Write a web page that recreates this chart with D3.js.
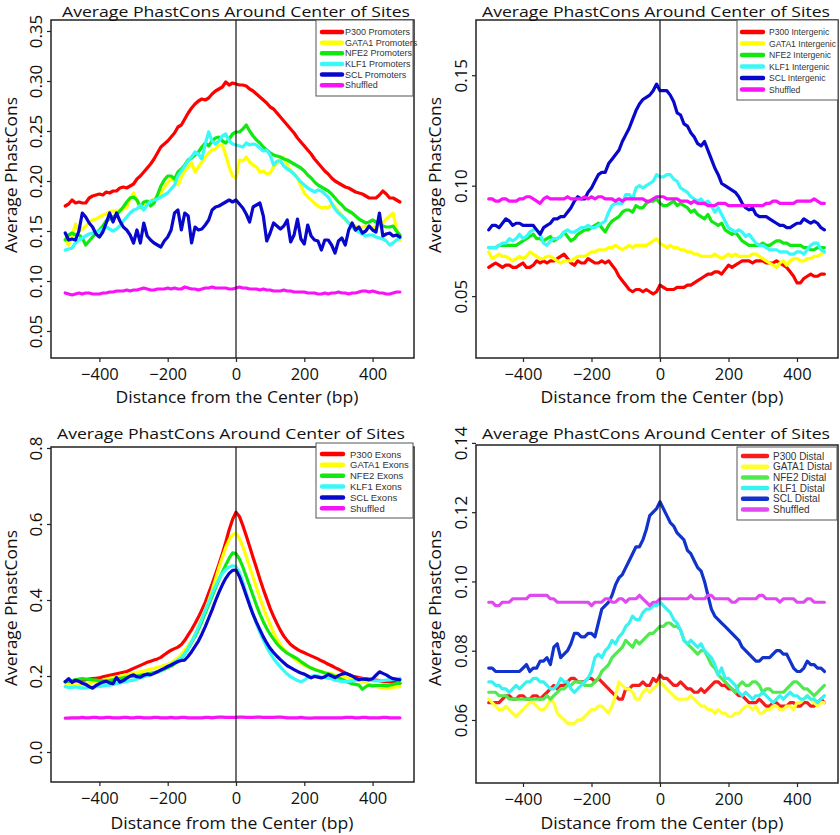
<!DOCTYPE html>
<html><head><meta charset="utf-8">
<script src="https://cdn.jsdelivr.net/npm/d3@7"></script>
<style>body{margin:0;background:#fff}svg{display:block}</style>
</head><body><svg id="c" width="840" height="835"></svg>
<script>
// ---- DATA ----
const xs = d3.range(-500, 481, 10); // distance from center (bp)
const xTicks = [-400, -200, 0, 200, 400];
const titleText = "Average PhastCons Around Center of Sites";
const xLabelText = "Distance from the Center (bp)";
const yLabelText = "Average PhastCons";

const promLabels = ["P300 Promoters","GATA1 Promoters","NFE2 Promoters","KLF1 Promoters","SCL Promoters","Shuffled"];
const interLabels = ["P300 Intergenic","GATA1 Intergenic","NFE2 Intergenic","KLF1 Intergenic","SCL Intergenic","Shuffled"];
const exonLabels = ["P300 Exons","GATA1 Exons","NFE2 Exons","KLF1 Exons","SCL Exons","Shuffled"];
const distLabels = ["P300 Distal","GATA1 Distal","NFE2 Distal","KLF1 Distal","SCL Distal","Shuffled"];

const promYTicks = [0.05,0.10,0.15,0.20,0.25,0.30,0.35];
const interYTicks = [0.05,0.10,0.15];
const exonYTicks = [0.0,0.2,0.4,0.6,0.8];
const distYTicks = [0.06,0.08,0.10,0.12,0.14];

const promP300 = [0.175,0.177,0.181,0.178,0.179,0.178,0.178,0.183,0.185,0.186,
0.187,0.186,0.189,0.188,0.190,0.190,0.193,0.194,0.193,0.195,
0.197,0.202,0.205,0.209,0.213,0.217,0.222,0.228,0.234,0.237,
0.240,0.244,0.248,0.254,0.256,0.262,0.268,0.273,0.277,0.280,
0.282,0.281,0.283,0.287,0.290,0.292,0.294,0.299,0.296,0.298,
0.297,0.296,0.296,0.295,0.292,0.290,0.287,0.284,0.281,0.278,
0.274,0.272,0.268,0.264,0.260,0.256,0.252,0.248,0.243,0.239,
0.235,0.231,0.227,0.222,0.218,0.214,0.210,0.207,0.203,0.200,
0.198,0.196,0.194,0.193,0.191,0.189,0.188,0.187,0.185,0.183,
0.183,0.183,0.186,0.190,0.187,0.183,0.183,0.181,0.179];
const promGATA1 = [0.141,0.136,0.145,0.157,0.150,0.152,0.155,0.158,0.161,0.162,
0.164,0.166,0.167,0.169,0.170,0.170,0.171,0.172,0.174,0.182,
0.188,0.180,0.174,0.176,0.178,0.180,0.182,0.184,0.188,0.194,
0.198,0.203,0.200,0.196,0.204,0.210,0.214,0.218,0.209,0.214,
0.219,0.224,0.228,0.231,0.232,0.236,0.236,0.226,0.214,0.205,
0.203,0.221,0.220,0.224,0.219,0.216,0.214,0.209,0.210,0.207,
0.208,0.214,0.218,0.222,0.223,0.216,0.210,0.207,0.203,0.195,
0.188,0.184,0.181,0.178,0.175,0.173,0.174,0.173,0.177,0.174,
0.170,0.166,0.161,0.158,0.156,0.155,0.153,0.154,0.155,0.154,
0.153,0.154,0.155,0.158,0.162,0.165,0.168,0.152,0.141];
const promNFE2 = [0.141,0.146,0.148,0.146,0.146,0.143,0.136,0.140,0.144,0.148,
0.151,0.155,0.160,0.162,0.164,0.166,0.170,0.174,0.179,0.183,
0.184,0.181,0.174,0.179,0.180,0.175,0.178,0.186,0.195,0.201,
0.205,0.205,0.202,0.209,0.212,0.216,0.221,0.223,0.226,0.229,
0.234,0.238,0.235,0.240,0.243,0.244,0.240,0.238,0.242,0.247,
0.249,0.249,0.252,0.256,0.250,0.245,0.241,0.238,0.234,0.231,
0.228,0.226,0.225,0.224,0.222,0.221,0.219,0.217,0.215,0.213,
0.210,0.206,0.203,0.199,0.196,0.194,0.192,0.190,0.187,0.183,
0.179,0.176,0.172,0.170,0.168,0.165,0.162,0.160,0.158,0.159,
0.161,0.159,0.157,0.155,0.154,0.154,0.155,0.150,0.146];
const promKLF1 = [0.131,0.132,0.133,0.138,0.141,0.143,0.145,0.147,0.148,0.149,
0.150,0.152,0.154,0.152,0.150,0.152,0.155,0.160,0.164,0.168,
0.171,0.172,0.176,0.171,0.176,0.180,0.181,0.182,0.184,0.186,
0.188,0.192,0.196,0.205,0.210,0.215,0.220,0.224,0.229,0.227,
0.222,0.237,0.249,0.240,0.237,0.240,0.245,0.247,0.240,0.237,
0.236,0.235,0.234,0.238,0.236,0.237,0.236,0.233,0.230,0.231,
0.226,0.216,0.220,0.220,0.215,0.212,0.210,0.207,0.203,0.199,
0.196,0.193,0.191,0.189,0.191,0.190,0.187,0.184,0.178,0.172,
0.168,0.165,0.162,0.158,0.154,0.151,0.149,0.147,0.145,0.146,
0.146,0.144,0.143,0.142,0.140,0.136,0.138,0.141,0.143];
const promSCL = [0.148,0.141,0.142,0.141,0.150,0.168,0.164,0.158,0.154,0.147,
0.144,0.149,0.158,0.168,0.159,0.168,0.160,0.154,0.151,0.146,
0.138,0.151,0.138,0.158,0.145,0.141,0.138,0.136,0.134,0.140,
0.144,0.151,0.168,0.171,0.151,0.168,0.165,0.138,0.154,0.151,
0.152,0.156,0.161,0.171,0.174,0.175,0.177,0.179,0.181,0.179,
0.181,0.177,0.173,0.167,0.159,0.174,0.176,0.178,0.165,0.140,
0.148,0.158,0.155,0.152,0.155,0.161,0.139,0.146,0.162,0.142,
0.137,0.156,0.145,0.141,0.140,0.131,0.141,0.141,0.136,0.128,
0.140,0.143,0.136,0.151,0.158,0.151,0.154,0.148,0.150,0.155,
0.151,0.149,0.168,0.145,0.147,0.148,0.145,0.146,0.144];
const promShuf = [0.088,0.087,0.086,0.087,0.088,0.087,0.088,0.088,0.087,0.087,
0.087,0.088,0.088,0.089,0.089,0.090,0.090,0.090,0.091,0.090,
0.091,0.091,0.092,0.093,0.092,0.091,0.091,0.092,0.092,0.092,
0.093,0.092,0.093,0.092,0.092,0.094,0.093,0.092,0.092,0.091,
0.092,0.093,0.093,0.094,0.093,0.093,0.093,0.093,0.092,0.092,
0.093,0.094,0.093,0.093,0.092,0.092,0.092,0.091,0.092,0.091,
0.091,0.090,0.090,0.090,0.091,0.090,0.090,0.089,0.089,0.089,
0.089,0.088,0.088,0.088,0.087,0.087,0.088,0.087,0.088,0.088,
0.089,0.088,0.088,0.087,0.088,0.088,0.089,0.090,0.090,0.089,
0.090,0.089,0.088,0.088,0.087,0.087,0.088,0.089,0.089];

const interP300 = [0.063,0.064,0.065,0.064,0.063,0.064,0.064,0.063,0.063,0.064,
0.065,0.063,0.063,0.064,0.066,0.065,0.066,0.065,0.066,0.066,
0.067,0.068,0.069,0.067,0.065,0.064,0.066,0.065,0.065,0.067,
0.066,0.065,0.065,0.066,0.065,0.066,0.064,0.062,0.059,0.057,
0.055,0.053,0.052,0.053,0.053,0.052,0.053,0.052,0.051,0.052,
0.055,0.054,0.053,0.053,0.053,0.054,0.054,0.054,0.055,0.055,
0.056,0.057,0.058,0.059,0.060,0.060,0.061,0.061,0.060,0.062,
0.064,0.063,0.064,0.065,0.066,0.066,0.066,0.065,0.066,0.066,
0.066,0.065,0.065,0.065,0.066,0.065,0.064,0.063,0.061,0.059,
0.056,0.056,0.058,0.059,0.060,0.059,0.059,0.060,0.060];
const interGATA1 = [0.070,0.067,0.068,0.069,0.068,0.068,0.067,0.066,0.067,0.068,
0.067,0.068,0.070,0.069,0.068,0.067,0.067,0.068,0.068,0.067,
0.066,0.065,0.066,0.066,0.066,0.067,0.068,0.068,0.068,0.069,
0.070,0.070,0.071,0.071,0.071,0.072,0.072,0.073,0.072,0.071,
0.072,0.073,0.072,0.073,0.073,0.073,0.073,0.074,0.075,0.076,
0.074,0.073,0.072,0.073,0.072,0.072,0.071,0.071,0.070,0.070,
0.069,0.069,0.068,0.068,0.068,0.068,0.069,0.068,0.067,0.068,
0.069,0.068,0.069,0.068,0.068,0.068,0.068,0.069,0.069,0.068,
0.067,0.066,0.065,0.064,0.063,0.065,0.066,0.064,0.066,0.067,
0.067,0.066,0.066,0.067,0.067,0.068,0.068,0.069,0.070];
const interNFE2 = [0.072,0.072,0.072,0.073,0.073,0.073,0.073,0.073,0.073,0.074,
0.075,0.076,0.077,0.078,0.076,0.076,0.075,0.076,0.077,0.075,
0.076,0.077,0.079,0.077,0.075,0.076,0.078,0.079,0.080,0.080,
0.081,0.082,0.083,0.081,0.079,0.082,0.084,0.085,0.086,0.088,
0.089,0.089,0.088,0.091,0.090,0.090,0.092,0.093,0.093,0.094,
0.092,0.091,0.091,0.092,0.093,0.091,0.092,0.091,0.090,0.088,
0.089,0.087,0.086,0.085,0.087,0.084,0.083,0.082,0.083,0.080,
0.079,0.078,0.079,0.077,0.075,0.074,0.073,0.073,0.073,0.073,
0.074,0.073,0.073,0.074,0.075,0.075,0.074,0.074,0.073,0.073,
0.073,0.073,0.072,0.072,0.071,0.071,0.072,0.072,0.072];
const interKLF1 = [0.072,0.072,0.072,0.073,0.074,0.074,0.076,0.075,0.076,0.078,
0.076,0.077,0.079,0.080,0.080,0.078,0.074,0.073,0.075,0.076,
0.076,0.077,0.079,0.080,0.079,0.079,0.080,0.081,0.081,0.082,
0.081,0.081,0.082,0.083,0.084,0.088,0.091,0.092,0.092,0.092,
0.096,0.096,0.094,0.099,0.100,0.099,0.100,0.101,0.102,0.105,
0.104,0.104,0.105,0.105,0.103,0.102,0.099,0.098,0.097,0.095,
0.094,0.093,0.094,0.092,0.093,0.091,0.088,0.090,0.087,0.084,
0.081,0.080,0.079,0.080,0.079,0.077,0.078,0.076,0.074,0.073,
0.073,0.072,0.071,0.071,0.071,0.070,0.070,0.070,0.069,0.069,
0.070,0.070,0.069,0.071,0.073,0.074,0.074,0.071,0.070];
const interSCL = [0.080,0.082,0.082,0.081,0.083,0.085,0.084,0.082,0.083,0.083,
0.082,0.082,0.082,0.082,0.080,0.078,0.081,0.082,0.083,0.085,
0.085,0.086,0.086,0.088,0.090,0.093,0.095,0.094,0.094,0.097,
0.099,0.102,0.105,0.106,0.106,0.110,0.112,0.114,0.116,0.120,
0.123,0.126,0.130,0.134,0.137,0.139,0.140,0.141,0.143,0.146,
0.143,0.143,0.143,0.141,0.138,0.133,0.132,0.128,0.127,0.124,
0.122,0.119,0.118,0.120,0.116,0.112,0.108,0.105,0.101,0.100,
0.099,0.098,0.097,0.095,0.092,0.090,0.089,0.090,0.087,0.086,
0.086,0.086,0.085,0.084,0.083,0.082,0.082,0.081,0.081,0.082,
0.083,0.083,0.085,0.084,0.083,0.084,0.083,0.081,0.080];
const interShuf = [0.094,0.094,0.093,0.093,0.094,0.094,0.093,0.093,0.093,0.094,
0.094,0.095,0.095,0.094,0.093,0.092,0.094,0.095,0.094,0.094,
0.094,0.094,0.094,0.095,0.094,0.094,0.094,0.094,0.095,0.094,
0.095,0.094,0.095,0.095,0.094,0.094,0.094,0.093,0.094,0.093,
0.094,0.094,0.094,0.094,0.094,0.094,0.093,0.093,0.094,0.095,
0.095,0.095,0.094,0.094,0.094,0.094,0.093,0.093,0.093,0.092,
0.093,0.092,0.092,0.092,0.091,0.091,0.091,0.092,0.092,0.092,
0.091,0.091,0.091,0.091,0.091,0.091,0.091,0.091,0.091,0.091,
0.091,0.092,0.092,0.093,0.093,0.092,0.092,0.092,0.092,0.092,
0.093,0.093,0.093,0.093,0.093,0.094,0.093,0.092,0.092];

const exonP300 = [0.185,0.186,0.186,0.187,0.188,0.189,0.190,0.192,0.193,0.194,
0.195,0.198,0.200,0.202,0.204,0.206,0.208,0.210,0.212,0.216,
0.220,0.224,0.228,0.232,0.236,0.239,0.242,0.245,0.249,0.256,
0.262,0.268,0.272,0.276,0.283,0.294,0.308,0.322,0.338,0.355,
0.374,0.394,0.418,0.442,0.468,0.494,0.522,0.552,0.585,0.612,
0.631,0.620,0.596,0.569,0.541,0.512,0.484,0.455,0.428,0.403,
0.378,0.357,0.338,0.320,0.305,0.293,0.283,0.276,0.270,0.265,
0.261,0.257,0.253,0.249,0.245,0.240,0.236,0.231,0.227,0.222,
0.218,0.213,0.208,0.204,0.200,0.198,0.196,0.194,0.193,0.192,
0.190,0.189,0.188,0.186,0.185,0.185,0.184,0.182,0.181];
const exonGATA1 = [0.181,0.180,0.178,0.177,0.177,0.176,0.177,0.180,0.183,0.185,
0.187,0.189,0.191,0.194,0.195,0.197,0.199,0.201,0.203,0.205,
0.207,0.209,0.211,0.213,0.216,0.218,0.220,0.223,0.225,0.228,
0.230,0.235,0.241,0.248,0.257,0.268,0.280,0.293,0.310,0.330,
0.352,0.374,0.398,0.425,0.455,0.485,0.512,0.538,0.558,0.572,
0.576,0.563,0.540,0.515,0.487,0.460,0.432,0.405,0.380,0.356,
0.335,0.315,0.297,0.282,0.270,0.261,0.254,0.246,0.239,0.233,
0.228,0.224,0.221,0.218,0.215,0.212,0.210,0.208,0.206,0.203,
0.201,0.198,0.196,0.194,0.192,0.190,0.188,0.185,0.182,0.178,
0.176,0.173,0.170,0.168,0.167,0.168,0.170,0.171,0.172];
const exonNFE2 = [0.185,0.186,0.188,0.190,0.192,0.193,0.192,0.191,0.190,0.189,
0.188,0.187,0.187,0.188,0.190,0.192,0.193,0.195,0.197,0.198,
0.199,0.200,0.202,0.204,0.205,0.207,0.209,0.211,0.214,0.218,
0.222,0.226,0.232,0.238,0.246,0.258,0.272,0.288,0.304,0.323,
0.344,0.366,0.388,0.410,0.432,0.453,0.473,0.492,0.510,0.524,
0.522,0.508,0.487,0.462,0.437,0.411,0.386,0.363,0.343,0.325,
0.310,0.297,0.285,0.275,0.267,0.260,0.255,0.250,0.245,0.238,
0.232,0.226,0.221,0.217,0.214,0.211,0.208,0.206,0.203,0.199,
0.195,0.191,0.187,0.183,0.180,0.178,0.176,0.165,0.172,0.176,
0.174,0.175,0.175,0.176,0.174,0.176,0.178,0.180,0.181];
const exonKLF1 = [0.172,0.170,0.170,0.171,0.170,0.168,0.169,0.170,0.171,0.172,
0.172,0.174,0.175,0.176,0.178,0.180,0.182,0.184,0.186,0.188,
0.189,0.192,0.195,0.198,0.201,0.204,0.207,0.210,0.214,0.220,
0.226,0.230,0.236,0.242,0.248,0.258,0.272,0.290,0.308,0.328,
0.350,0.372,0.394,0.416,0.437,0.455,0.470,0.480,0.487,0.490,
0.488,0.472,0.447,0.418,0.390,0.362,0.337,0.315,0.295,0.276,
0.260,0.246,0.234,0.224,0.214,0.205,0.198,0.193,0.188,0.185,
0.189,0.196,0.199,0.201,0.200,0.197,0.196,0.194,0.193,0.189,
0.187,0.186,0.185,0.186,0.187,0.189,0.192,0.192,0.191,0.190,
0.188,0.187,0.187,0.188,0.189,0.190,0.191,0.193,0.194];
const exonSCL = [0.185,0.193,0.183,0.189,0.186,0.181,0.178,0.172,0.168,0.175,
0.180,0.184,0.186,0.182,0.180,0.196,0.184,0.188,0.194,0.200,
0.203,0.198,0.197,0.202,0.205,0.203,0.207,0.211,0.216,0.220,
0.225,0.229,0.234,0.238,0.241,0.242,0.252,0.264,0.278,0.292,
0.310,0.330,0.352,0.374,0.398,0.420,0.440,0.457,0.470,0.478,
0.479,0.462,0.438,0.412,0.386,0.362,0.341,0.322,0.303,0.287,
0.273,0.262,0.252,0.243,0.235,0.227,0.222,0.217,0.212,0.208,
0.205,0.200,0.195,0.199,0.197,0.195,0.198,0.204,0.200,0.196,
0.201,0.205,0.207,0.204,0.200,0.194,0.190,0.192,0.191,0.190,
0.193,0.202,0.211,0.207,0.203,0.197,0.193,0.191,0.190];
const exonShuf = [0.089,0.089,0.090,0.090,0.090,0.091,0.090,0.090,0.091,0.091,
0.090,0.090,0.091,0.091,0.090,0.090,0.090,0.091,0.091,0.090,
0.090,0.091,0.091,0.090,0.090,0.090,0.091,0.091,0.090,0.090,
0.090,0.091,0.090,0.090,0.091,0.091,0.090,0.090,0.090,0.090,
0.090,0.091,0.091,0.090,0.091,0.092,0.092,0.091,0.091,0.091,
0.091,0.092,0.092,0.091,0.091,0.091,0.092,0.092,0.091,0.091,
0.091,0.091,0.092,0.092,0.091,0.090,0.090,0.090,0.090,0.091,
0.090,0.089,0.089,0.090,0.090,0.090,0.090,0.090,0.090,0.090,
0.090,0.090,0.091,0.091,0.091,0.090,0.090,0.091,0.091,0.090,
0.090,0.090,0.090,0.091,0.091,0.090,0.090,0.090,0.090];

const distP300 = [0.065,0.065,0.065,0.065,0.066,0.067,0.067,0.066,0.066,0.067,
0.067,0.066,0.066,0.067,0.067,0.066,0.067,0.068,0.069,0.070,
0.069,0.070,0.070,0.071,0.072,0.072,0.071,0.071,0.071,0.072,
0.072,0.071,0.072,0.071,0.070,0.069,0.068,0.067,0.066,0.066,
0.069,0.069,0.070,0.070,0.070,0.071,0.070,0.070,0.072,0.071,
0.073,0.072,0.072,0.071,0.070,0.070,0.071,0.070,0.069,0.069,
0.068,0.068,0.069,0.068,0.069,0.070,0.071,0.071,0.070,0.070,
0.069,0.069,0.068,0.067,0.067,0.066,0.065,0.065,0.065,0.066,
0.065,0.064,0.064,0.065,0.065,0.064,0.064,0.064,0.065,0.065,
0.064,0.064,0.065,0.065,0.064,0.064,0.065,0.066,0.065];
const distGATA1 = [0.066,0.065,0.064,0.063,0.063,0.064,0.063,0.062,0.061,0.062,
0.063,0.064,0.065,0.065,0.064,0.063,0.063,0.064,0.066,0.065,
0.062,0.061,0.060,0.059,0.059,0.059,0.060,0.060,0.061,0.062,
0.063,0.063,0.064,0.064,0.063,0.062,0.064,0.067,0.071,0.070,
0.069,0.069,0.068,0.066,0.066,0.068,0.069,0.068,0.069,0.070,
0.071,0.070,0.069,0.068,0.067,0.066,0.066,0.066,0.066,0.067,
0.066,0.065,0.064,0.064,0.063,0.063,0.062,0.063,0.062,0.062,
0.061,0.061,0.062,0.062,0.063,0.064,0.064,0.063,0.064,0.062,
0.062,0.063,0.063,0.064,0.064,0.063,0.063,0.064,0.064,0.063,
0.065,0.065,0.066,0.067,0.066,0.065,0.064,0.065,0.065];
const distNFE2 = [0.068,0.068,0.068,0.067,0.067,0.067,0.066,0.066,0.066,0.066,
0.066,0.066,0.066,0.066,0.066,0.066,0.066,0.067,0.066,0.067,
0.068,0.069,0.069,0.070,0.070,0.071,0.071,0.071,0.070,0.070,
0.070,0.071,0.072,0.074,0.075,0.076,0.078,0.079,0.080,0.081,
0.083,0.082,0.081,0.083,0.082,0.083,0.084,0.085,0.085,0.086,
0.087,0.087,0.088,0.088,0.087,0.087,0.086,0.083,0.082,0.081,
0.080,0.079,0.080,0.080,0.078,0.076,0.075,0.073,0.072,0.071,
0.070,0.069,0.068,0.070,0.071,0.070,0.070,0.071,0.071,0.070,
0.068,0.069,0.069,0.068,0.068,0.068,0.068,0.069,0.070,0.071,
0.071,0.070,0.069,0.069,0.068,0.067,0.068,0.069,0.070];
const distKLF1 = [0.071,0.071,0.070,0.070,0.069,0.069,0.068,0.069,0.070,0.069,
0.070,0.071,0.071,0.072,0.072,0.071,0.071,0.070,0.069,0.069,
0.070,0.072,0.071,0.071,0.069,0.068,0.069,0.070,0.071,0.072,
0.074,0.078,0.079,0.078,0.080,0.081,0.083,0.082,0.084,0.085,
0.087,0.088,0.090,0.089,0.089,0.091,0.092,0.092,0.093,0.093,
0.094,0.093,0.092,0.091,0.089,0.088,0.086,0.083,0.082,0.083,
0.082,0.081,0.082,0.080,0.079,0.078,0.076,0.073,0.075,0.072,
0.072,0.071,0.070,0.068,0.067,0.068,0.067,0.066,0.067,0.067,
0.068,0.067,0.066,0.065,0.066,0.067,0.066,0.067,0.068,0.067,
0.067,0.066,0.066,0.067,0.066,0.066,0.065,0.066,0.067];
const distSCL = [0.075,0.075,0.074,0.074,0.074,0.074,0.074,0.074,0.074,0.074,
0.075,0.076,0.074,0.075,0.075,0.077,0.077,0.078,0.076,0.081,
0.082,0.078,0.079,0.080,0.082,0.085,0.085,0.084,0.084,0.085,
0.085,0.084,0.088,0.092,0.093,0.094,0.096,0.099,0.101,0.102,
0.104,0.106,0.108,0.110,0.110,0.112,0.115,0.119,0.120,0.121,
0.123,0.121,0.119,0.117,0.116,0.114,0.113,0.112,0.109,0.108,
0.106,0.104,0.103,0.100,0.096,0.092,0.090,0.089,0.088,0.087,
0.086,0.085,0.084,0.083,0.081,0.080,0.079,0.078,0.077,0.077,
0.078,0.078,0.078,0.079,0.080,0.080,0.079,0.079,0.077,0.075,
0.074,0.074,0.075,0.077,0.076,0.076,0.075,0.075,0.074];
const distShuf = [0.094,0.094,0.093,0.093,0.094,0.094,0.094,0.095,0.095,0.095,
0.095,0.095,0.096,0.096,0.096,0.096,0.096,0.096,0.095,0.095,
0.094,0.094,0.094,0.094,0.094,0.094,0.094,0.094,0.094,0.094,
0.093,0.094,0.094,0.094,0.095,0.095,0.094,0.094,0.095,0.095,
0.094,0.095,0.095,0.095,0.096,0.095,0.094,0.093,0.094,0.094,
0.095,0.095,0.095,0.095,0.095,0.095,0.095,0.095,0.095,0.096,
0.095,0.095,0.095,0.095,0.096,0.096,0.095,0.095,0.095,0.095,
0.095,0.094,0.094,0.095,0.095,0.095,0.095,0.095,0.095,0.096,
0.096,0.095,0.095,0.095,0.095,0.094,0.095,0.095,0.095,0.095,
0.094,0.094,0.094,0.095,0.095,0.094,0.094,0.094,0.094];

const palette = ["#ff0000","#ffff00","#10e810","#38f8f8","#0808cc","#f812f8"];
const paletteDistal = ["#f41c1c","#ffff30","#50ea50","#38f2f2","#1232cc","#e048f0"];

// ---- LAYOUT ----
const panels = [
  {series:[promP300,promGATA1,promNFE2,promKLF1,promSCL,promShuf], labels:promLabels, colors:palette,
   box:{l:51,r:414,t:20,b:358}, xd:[-541.7,521.2], yd:[0.023,0.361], yt:promYTicks, yf:".2f",
   titleX:236, titleY:16.5, ylabX:17, ylabY:175, xlabX:237, xlabY:403,
   leg:{x:316,y:20,w:97,h:76,s1:322,s2:342,tx:345,r0:32,gap:10.65,fs:9}},
  {series:[interP300,interGATA1,interNFE2,interKLF1,interSCL,interShuf], labels:interLabels, colors:palette,
   box:{l:476,r:838,t:20,b:358}, xd:[-537.2,519.7], yd:[0.022,0.175], yt:interYTicks, yf:".2f",
   titleX:656, titleY:16.5, ylabX:441, ylabY:175, xlabX:662, xlabY:403,
   leg:{x:737,y:20,w:101,h:80,s1:742,s2:763,tx:769,r0:32,gap:11.5,fs:8.6}},
  {series:[exonP300,exonGATA1,exonNFE2,exonKLF1,exonSCL,exonShuf], labels:exonLabels, colors:palette,
   box:{l:51,r:414,t:447,b:782}, xd:[-541.7,521.2], yd:[-0.0789,0.8026], yt:exonYTicks, yf:".1f",
   titleX:231, titleY:439, ylabX:17, ylabY:608, xlabX:232, xlabY:829,
   leg:{x:316,y:443,w:97,h:75,s1:322,s2:343,tx:350,r0:454,gap:10.85,fs:9.5}},
  {series:[distP300,distGATA1,distNFE2,distKLF1,distSCL,distShuf], labels:distLabels, colors:paletteDistal,
   box:{l:476,r:838,t:445,b:783}, xd:[-537.2,519.7], yd:[0.0418,0.1394], yt:distYTicks, yf:".2f",
   titleX:656, titleY:439, ylabX:441, ylabY:608, xlabX:662, xlabY:829,
   leg:{x:737,y:447,w:100,h:73,s1:743,s2:767,tx:773,r0:456,gap:10.7,fs:10}}
];

const svg = d3.select("#c");
svg.append("rect").attr("width",840).attr("height",835).attr("fill","#fff");
const FONT = "'Open Sans', 'DejaVu Sans', sans-serif";
const LFONT = "'Liberation Sans', Arial, sans-serif";

panels.forEach(p => {
  const b = p.box;
  const x = d3.scaleLinear().domain(p.xd).range([b.l, b.r]);
  const y = d3.scaleLinear().domain(p.yd).range([b.b, b.t]);
  const g = svg.append("g");

  // lines
  const line = d3.line().x((d,i)=>x(xs[i])).y(d=>y(d)).curve(d3.curveLinear);
  p.series.forEach((s,k) => {
    if (s.length !== xs.length) console.error("length mismatch", p.labels[k], s.length);
    g.append("path").datum(s).attr("d", line)
      .attr("fill","none").attr("stroke", p.colors[k]).attr("stroke-width",3.2)
      .attr("stroke-linejoin","round").attr("stroke-linecap","round");
  });

  // vertical center line
  g.append("line").attr("x1",x(0)).attr("x2",x(0)).attr("y1",b.t).attr("y2",b.b)
    .attr("stroke","#111").attr("stroke-width",1.2);

  // box
  g.append("rect").attr("x",b.l).attr("y",b.t).attr("width",b.r-b.l).attr("height",b.b-b.t)
    .attr("fill","none").attr("stroke","#222").attr("stroke-width",1.5);

  // x axis
  const xa = g.append("g").attr("transform",`translate(0,${b.b})`)
    .call(d3.axisBottom(x).tickValues(xTicks).tickSize(4).tickPadding(6).tickFormat(d3.format("d")));
  xa.select(".domain").remove();
  xa.selectAll("line").attr("stroke","#222").attr("stroke-width",1.2);
  xa.selectAll("text").attr("font-family",FONT).attr("font-size",16.5).attr("fill","#111");

  // y axis
  const ya = g.append("g").attr("transform",`translate(${b.l},0)`)
    .call(d3.axisLeft(y).tickValues(p.yt).tickSize(4).tickFormat(d3.format(p.yf)));
  ya.select(".domain").remove();
  ya.selectAll("line").attr("stroke","#222").attr("stroke-width",1.2);
  ya.selectAll("text").attr("x",0).attr("dy",null)
    .attr("transform","translate(-9,0) rotate(-90)").attr("text-anchor","middle")
    .attr("font-family",FONT).attr("font-size",17).attr("fill","#111");

  // title & labels
  svg.append("text").attr("x",p.titleX).attr("y",p.titleY).attr("text-anchor","middle")
    .attr("font-family",FONT).attr("font-size",15.2).attr("fill","#111")
    .attr("textLength",348).attr("lengthAdjust","spacingAndGlyphs").text(titleText);
  svg.append("text").attr("x",p.xlabX).attr("y",p.xlabY).attr("text-anchor","middle")
    .attr("font-family",FONT).attr("font-size",16.5).attr("fill","#111")
    .attr("textLength",243).attr("lengthAdjust","spacingAndGlyphs").text(xLabelText);
  svg.append("text").attr("transform",`translate(${p.ylabX},${p.ylabY}) rotate(-90)`)
    .attr("text-anchor","middle").attr("font-family",FONT).attr("font-size",15.5).attr("fill","#111")
    .attr("textLength",156).attr("lengthAdjust","spacingAndGlyphs").text(yLabelText);

  // legend
  const L = p.leg;
  const lg = svg.append("g");
  lg.append("rect").attr("x",L.x).attr("y",L.y).attr("width",L.w).attr("height",L.h)
    .attr("fill","#fff").attr("stroke","#555").attr("stroke-width",1);
  p.labels.forEach((lab,k) => {
    const yy = L.r0 + k*L.gap;
    lg.append("line").attr("x1",L.s1).attr("x2",L.s2).attr("y1",yy).attr("y2",yy)
      .attr("stroke",p.colors[k]).attr("stroke-width",4.5).attr("stroke-linecap","round");
    lg.append("text").attr("x",L.tx).attr("y",yy).attr("dominant-baseline","central")
      .attr("font-family",LFONT).attr("font-size",L.fs).attr("fill","#333").text(lab);
  });
});
</script></body></html>
